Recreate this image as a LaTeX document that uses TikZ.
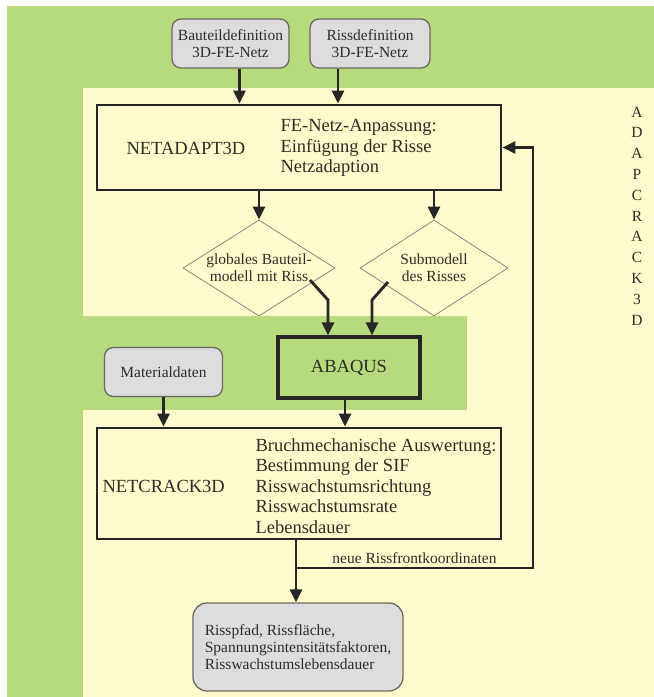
\documentclass[tikz,border=0pt]{standalone}
\usepackage{fontspec}
\setmainfont{Liberation Serif}
\usetikzlibrary{arrows.meta,shapes.geometric,calc}
\definecolor{hgruen}{RGB}{183,218,125}
\definecolor{hgelb}{RGB}{255,251,204}
\definecolor{kgrau}{RGB}{221,221,221}
\definecolor{rgrau}{RGB}{105,105,95}
\definecolor{schrift}{RGB}{45,45,40}
\begin{document}
\begin{tikzpicture}[x=1pt,y=-1pt,
  gross/.style={font=\fontsize{18.5}{20.5}\selectfont,text=schrift},
  klein/.style={font=\fontsize{15.5}{17}\selectfont,text=schrift},
  eingabe/.style={klein,draw=rgrau,line width=1.3pt,fill=kgrau,rounded corners=9pt,align=center},
  prog/.style={draw=black!85,line width=2.8pt,fill=hgelb},
  raute/.style={diamond,draw=rgrau!80,line width=0.8pt,inner sep=0pt},
  pfeil/.style={line width=2.8pt,draw=black!85,-{Triangle[length=13pt,width=12pt]}}]
  % Hintergrund
  \fill[white] (0,0) rectangle (654,697);
  \fill[hgruen] (7,6) rectangle (654,697);
  \fill[hgelb] (83,88) -- (654,88) -- (654,697) -- (83,697) -- (83,410)
    -- (467,410) -- (467,316) -- (83,316) -- cycle;
  \useasboundingbox (0,0) rectangle (654,697);
  % Eingaben
  \node[eingabe, minimum width=117pt, minimum height=49pt] (bauteil) at (230.5,43.5) {Bauteildefinition\\3D-FE-Netz};
  \node[eingabe, minimum width=120pt, minimum height=49pt] (rissdef) at (370,43.5) {Rissdefinition\\3D-FE-Netz};
  % NETADAPT3D
  \node[prog, minimum width=404pt, minimum height=85pt] (netadapt) at (299,147.5) {};
  \node[gross, anchor=west] (na-name) at (123,148) {NETADAPT3D};
  \node[gross, anchor=west, align=left] (na-text) at (277,148) {FE-Netz-Anpassung:\\Einfügung der Risse\\Netzadaption};
  % Modelle
  \node[raute, minimum width=152pt, minimum height=96pt] (global) at (259,268) {};
  \node[klein, align=center] (global-text) at (global) {globales Bauteil-\\modell mit Riss};
  \node[raute, minimum width=148pt, minimum height=96pt] (submodell) at (434,268) {};
  \node[klein, align=center] (submodell-text) at (submodell) {Submodell\\des Risses};
  % ABAQUS
  \node[prog, fill=hgruen, line width=3.2pt, minimum width=142pt, minimum height=61pt, gross] (abaqus) at (349,367.5) {ABAQUS};
  \node[eingabe, minimum width=118pt, minimum height=49pt] (material) at (163.5,372) {Materialdaten};
  % NETCRACK3D
  \node[prog, minimum width=404pt, minimum height=111pt] (netcrack) at (299,483.5) {};
  \node[gross, anchor=west] (nc-name) at (99,486) {NETCRACK3D};
  \node[gross, anchor=west, align=left] (nc-text) at (252,486) {Bruchmechanische Auswertung:\\Bestimmung der SIF\\Risswachstumsrichtung\\Risswachstumsrate\\Lebensdauer};
  % Ergebnis
  \node[eingabe, align=left, minimum width=210pt, minimum height=88pt, rounded corners=14pt] (ergebnis) at (298,647) {Risspfad, Rissfläche,\\Spannungsintensitätsfaktoren,\\Risswachstumslebensdauer};
  \node[font=\fontsize{15.5}{20.8}\selectfont, text=schrift, align=center] (adap) at (637,216) {A\\D\\A\\P\\C\\R\\A\\C\\K\\3\\D};
  % Verbindungen
  \coordinate (k1) at (328,300);
  \coordinate (k2) at (372,300);
  \coordinate (abzweig) at (296,568);
  \coordinate (ecke) at (533,568);
  \draw[pfeil] ([xshift=9pt]bauteil.south) -- ([xshift=9pt]bauteil.south |- netadapt.north);
  \draw[pfeil] ([xshift=-32pt]rissdef.south) -- ([xshift=-32pt]rissdef.south |- netadapt.north);
  \draw[pfeil] (global.north |- netadapt.south) -- (global.north);
  \draw[pfeil] (submodell.north |- netadapt.south) -- (submodell.north);
  \draw[pfeil] ($(global)+(51,12)$) -- (k1) -- (k1 |- abaqus.north);
  \draw[pfeil] ($(submodell)+(-46,14)$) -- (k2) -- (k2 |- abaqus.north);
  \draw[pfeil] (material.south) -- (material.south |- netcrack.north);
  \draw[pfeil] ([xshift=-4pt]abaqus.south) -- ([xshift=-4pt]abaqus.south |- netcrack.north);
  \draw[line width=2.8pt, draw=black!85] (abzweig |- netcrack.south) -- (abzweig);
  \draw[pfeil] (abzweig) -- (abzweig |- ergebnis.north);
  \draw[pfeil] (abzweig) -- node[klein, above] {neue Rissfrontkoordinaten} (ecke) -- (ecke |- netadapt.east) -- (netadapt.east);
\end{tikzpicture}
\end{document}
